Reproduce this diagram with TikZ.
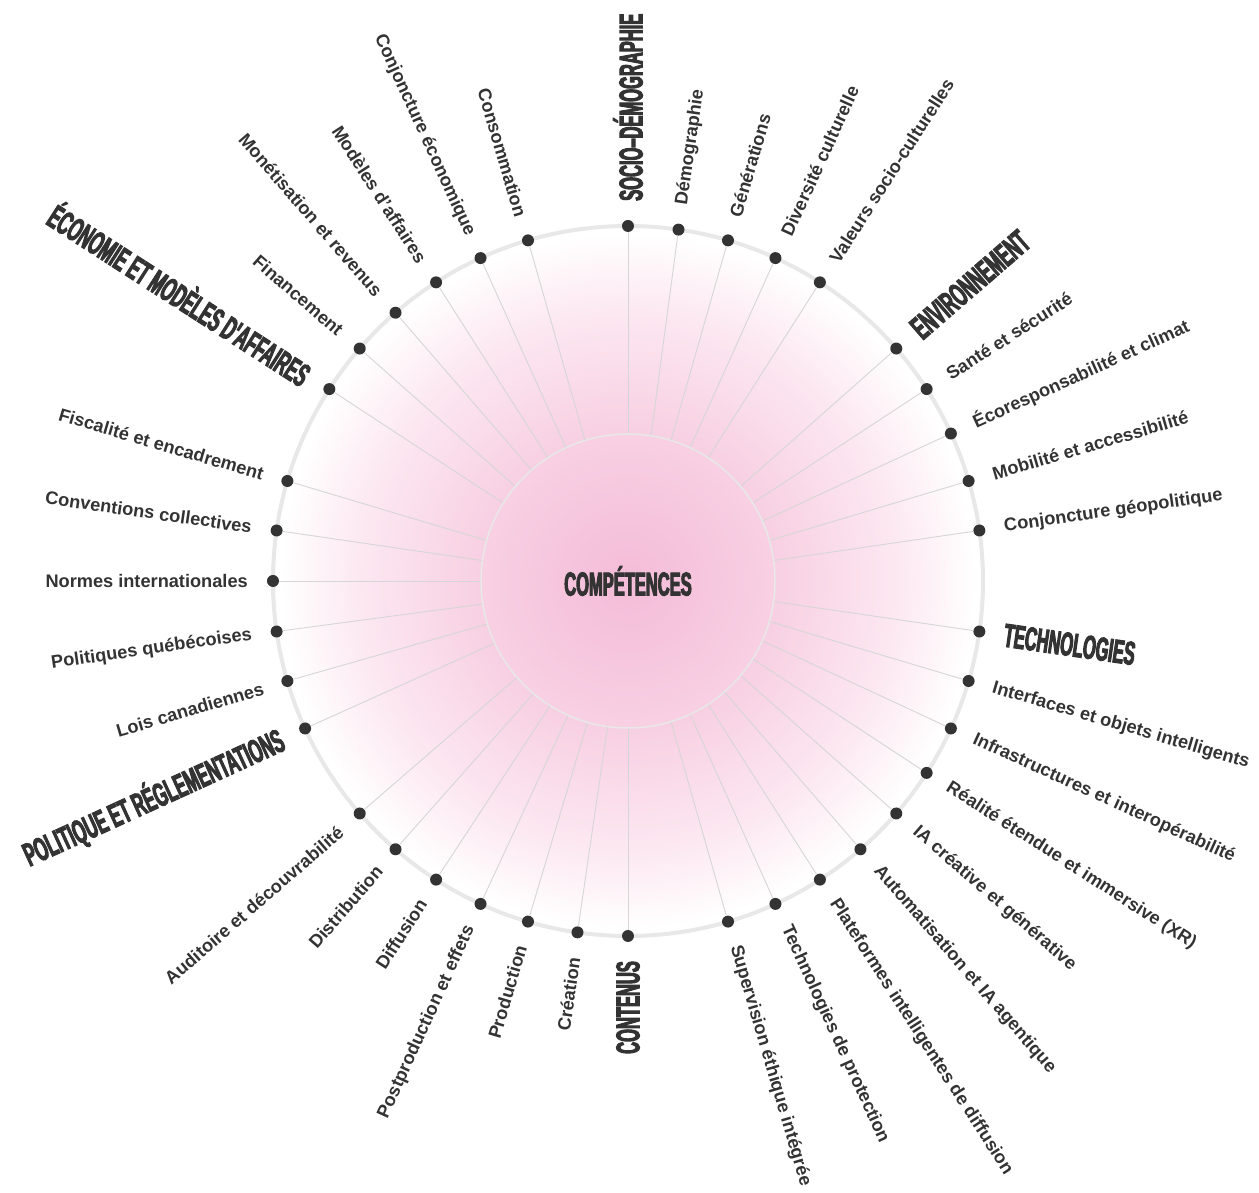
\documentclass[tikz,border=0pt]{standalone}
\usepackage{fontspec}
\setmainfont{Liberation Sans}
\newfontfamily\condfont{Liberation Sans Bold}[FakeStretch=0.5,FakeBold=3]
\definecolor{ink}{HTML}{333333}
\definecolor{ringgray}{HTML}{E8E8E8}
\definecolor{spokegray}{HTML}{D6D6D6}
\definecolor{pinkA}{HTML}{F4BCD8}
\definecolor{pinkB}{HTML}{F8D1E4}
\definecolor{pinkC}{HTML}{FCE8F1}
\pgfdeclareradialshading{glow}{\pgfpointorigin}{color(0bp)=(pinkA); color(11bp)=(pinkB); color(19bp)=(pinkC); color(24.5bp)=(white); color(50bp)=(white)}
\tikzset{
  dot/.style={circle,fill=ink,inner sep=0pt,minimum size=12pt},
  spoke/.style={spokegray,line width=0.9pt},
  topic/.style={text=ink,inner sep=0pt,font=\bfseries\fontsize{18.2}{20}\selectfont},
  theme/.style={text=ink,inner sep=0pt,font=\condfont\fontsize{33}{36}\selectfont}
}

\begin{document}
\begin{tikzpicture}[x=1pt,y=1pt]
  \useasboundingbox (-628,-612) rectangle (631,581);
  \shade[shading=glow] (0,0) circle (355pt);
  \draw[ringgray,line width=4pt] (0,0) circle (355pt);
  \node[circle,draw=ringgray,line width=1.5pt,minimum size=294pt,theme,inner sep=0pt] (hub) at (0,0) {COMPÉTENCES};
  \foreach \i/\kind/\txt in {0/theme/SOCIO–DÉMOGRAPHIE, 1/topic/Démographie, 2/topic/Générations,
    3/topic/Diversité culturelle, 4/topic/Valeurs socio-culturelles,
    6/theme/ENVIRONNEMENT, 7/topic/Santé et sécurité, 8/topic/Écoresponsabilité et climat,
    9/topic/Mobilité et accessibilité, 10/topic/Conjoncture géopolitique,
    12/theme/TECHNOLOGIES, 13/topic/Interfaces et objets intelligents,
    14/topic/Infrastructures et interopérabilité, 15/topic/Réalité étendue et immersive (XR),
    16/topic/IA créative et générative, 17/topic/Automatisation et IA agentique,
    18/topic/Plateformes intelligentes de diffusion, 19/topic/Technologies de protection,
    20/topic/Supervision éthique intégrée,
    22/theme/CONTENUS, 23/topic/Création, 24/topic/Production, 25/topic/Postproduction et effets,
    26/topic/Diffusion, 27/topic/Distribution, 28/topic/Auditoire et découvrabilité,
    30/theme/POLITIQUE ET RÉGLEMENTATIONS, 31/topic/Lois canadiennes, 32/topic/Politiques québécoises,
    33/topic/Normes internationales, 34/topic/Conventions collectives, 35/topic/Fiscalité et encadrement,
    37/theme/ÉCONOMIE ET MODÈLES D'AFFAIRES, 38/topic/Financement, 39/topic/Monétisation et revenus,
    40/topic/Modèles d'affaires, 41/topic/Conjoncture économique, 42/topic/Consommation}{
    \pgfmathsetmacro\a{90-\i*360/44}
    \ifdim\a pt>-89pt \def\side{west}\def\turn{\a}\else\def\side{east}\pgfmathsetmacro\turn{\a+180}\fi
    \node[dot] (d\i) at (\a:355pt) {};
    \draw[spoke] (hub.\a) -- (d\i);
    \node[\kind,anchor=\side,rotate=\turn] (t\i) at (\a:380pt) {\txt};
  }
\end{tikzpicture}
\end{document}
